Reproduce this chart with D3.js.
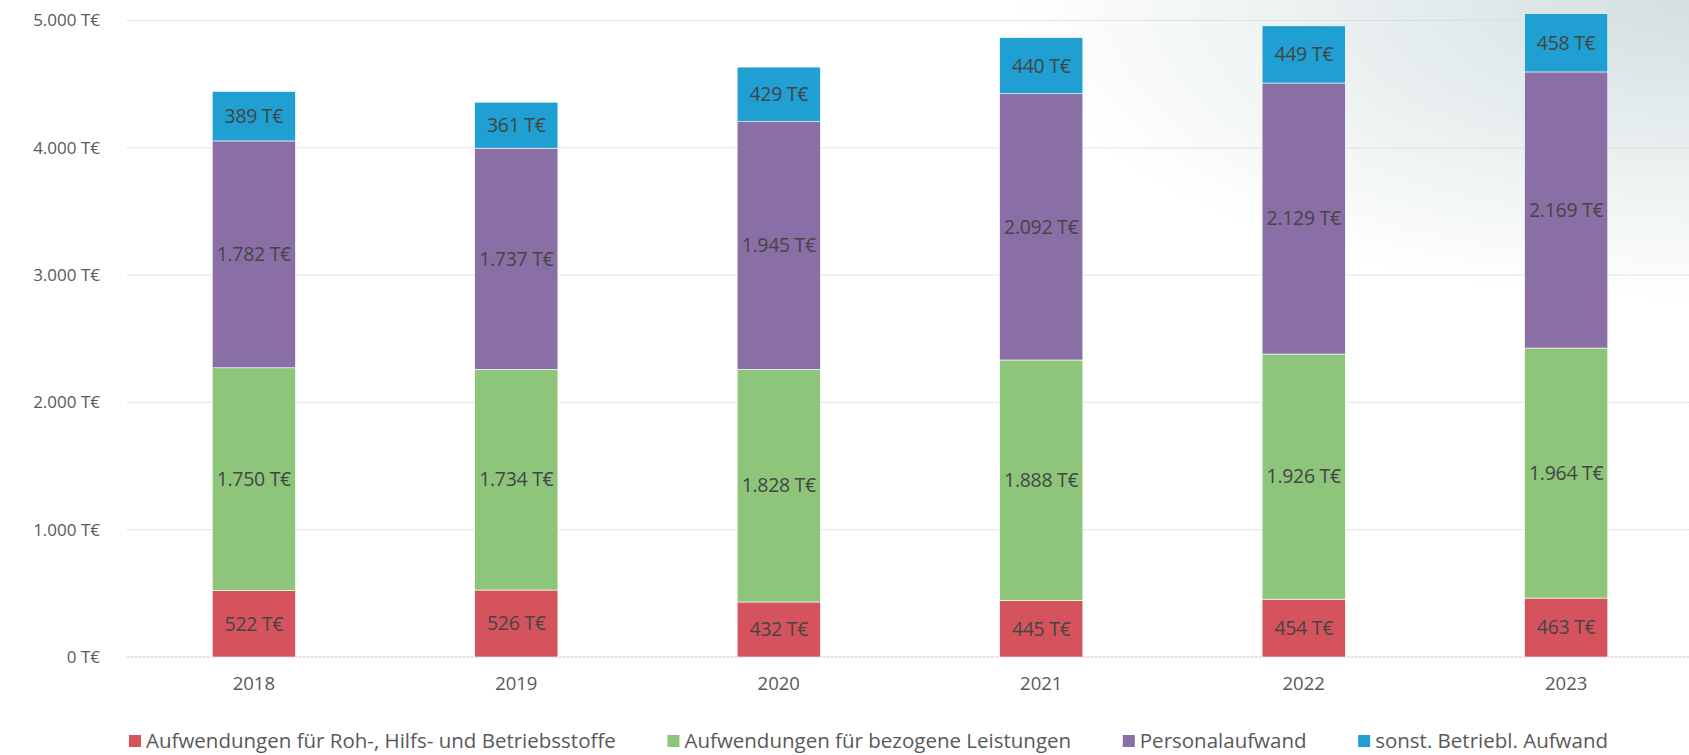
<!DOCTYPE html>
<html>
<head>
<meta charset="utf-8">
<script src="https://cdn.jsdelivr.net/npm/d3@7"></script>
<style>
  body { margin: 0; background: #fff; }
  svg { display: block; font-family: "Open Sans", sans-serif; }
</style>
</head>
<body>
<svg width="1689" height="755"></svg>
<script>
const years = ["2018", "2019", "2020", "2021", "2022", "2023"];
const rohstoffe = [522, 526, 432, 445, 454, 463];
const leistungen = [1750, 1734, 1828, 1888, 1926, 1964];
const personal = [1782, 1737, 1945, 2092, 2129, 2169];
const sonstige = [389, 361, 429, 440, 449, 458];
const seriesNames = [
  "Aufwendungen für Roh-, Hilfs- und Betriebsstoffe",
  "Aufwendungen für bezogene Leistungen",
  "Personalaufwand",
  "sonst. Betriebl. Aufwand"
];
const yTicks = [0, 1000, 2000, 3000, 4000, 5000];

const colors = ["#d5535d", "#8dc57a", "#8a6fa6", "#1f9fd2"];

const de = d3.formatLocale({ decimal: ",", thousands: ".", grouping: [3], currency: ["", " T€"] });
const fmt = d => de.format(",")(d) + " T€";

const svg = d3.select("svg");

// scan-like shading top right
const defs = svg.append("defs");
const grad = defs.append("radialGradient").attr("id", "shade")
  .attr("cx", "100%").attr("cy", "0%").attr("r", "40%");
grad.append("stop").attr("offset", "0%").attr("stop-color", "#d3dfe0");
grad.append("stop").attr("offset", "100%").attr("stop-color", "#ffffff");
svg.append("rect").attr("width", 1689).attr("height", 755).attr("fill", "url(#shade)");

const x = d3.scaleBand().domain(years).range([123, 1697]).paddingInner(0.683).paddingOuter(0.34);
const y = d3.scaleLinear().domain([0, 5000]).range([657, 20.5]);

// gridlines
svg.append("g")
  .selectAll("line")
  .data(yTicks)
  .join("line")
  .attr("x1", 127)
  .attr("x2", 1689)
  .attr("y1", d => y(d))
  .attr("y2", d => y(d))
  .attr("stroke", d => d === 0 ? "#c8c8c8" : "#dadada")
  .attr("stroke-width", 1)
  .attr("stroke-dasharray", "3,1");

// y axis labels
svg.append("g")
  .selectAll("text")
  .data(yTicks)
  .join("text")
  .attr("x", 100)
  .attr("y", d => y(d))
  .attr("dy", "0.35em")
  .attr("text-anchor", "end")
  .attr("fill", "#595959")
  .style("font-size", "17px")
  .text(d => fmt(d));

// stack
const rows = years.map((yr, i) => ({
  year: yr, s0: rohstoffe[i], s1: leistungen[i], s2: personal[i], s3: sonstige[i]
}));
const stack = d3.stack().keys(["s0", "s1", "s2", "s3"])(rows);

const layers = svg.append("g")
  .selectAll("g")
  .data(stack)
  .join("g")
  .attr("fill", (_, i) => colors[i]);

layers.selectAll("rect")
  .data(d => d)
  .join("rect")
  .attr("x", d => x(d.data.year))
  .attr("width", x.bandwidth())
  .attr("y", d => y(d[1]))
  .attr("height", d => y(d[0]) - y(d[1]))
  .attr("stroke", "#ffffff")
  .attr("stroke-width", 0.6);

// value labels
layers.selectAll("text")
  .data(d => d.map(v => ({ v, val: v[1] - v[0] })))
  .join("text")
  .attr("x", d => x(d.v.data.year) + x.bandwidth() / 2)
  .attr("y", d => y((d.v[0] + d.v[1]) / 2))
  .attr("dy", "0.35em")
  .attr("text-anchor", "middle")
  .attr("fill", "#454545")
  .style("font-size", "19.5px")
  .style("letter-spacing", "-0.3px")
  .text(d => fmt(d.val));

// x axis labels
svg.append("g")
  .selectAll("text")
  .data(years)
  .join("text")
  .attr("x", d => x(d) + x.bandwidth() / 2)
  .attr("y", 684)
  .attr("dy", "0.35em")
  .attr("text-anchor", "middle")
  .attr("fill", "#595959")
  .style("font-size", "18.5px")
  .text(d => d);

// legend
const legend = svg.append("g");
const items = legend.selectAll("g")
  .data(seriesNames)
  .join("g");
items.append("rect")
  .attr("width", 12).attr("height", 12)
  .attr("y", -6)
  .attr("fill", (_, i) => colors[i]);
items.append("text")
  .attr("x", 17)
  .attr("dy", "0.35em")
  .attr("fill", "#595959")
  .style("font-size", "20.5px")
  .text(d => d);

// spread legend over the same span as the reference
const legStart = 129, legEnd = 1608;
const widths = [];
items.each(function () { widths.push(this.getBBox().width); });
const gap = (legEnd - legStart - d3.sum(widths)) / (widths.length - 1);
let cx = legStart;
items.each(function (_, i) {
  d3.select(this).attr("transform", `translate(${cx},741)`);
  cx += widths[i] + gap;
});
</script>
</body>
</html>
